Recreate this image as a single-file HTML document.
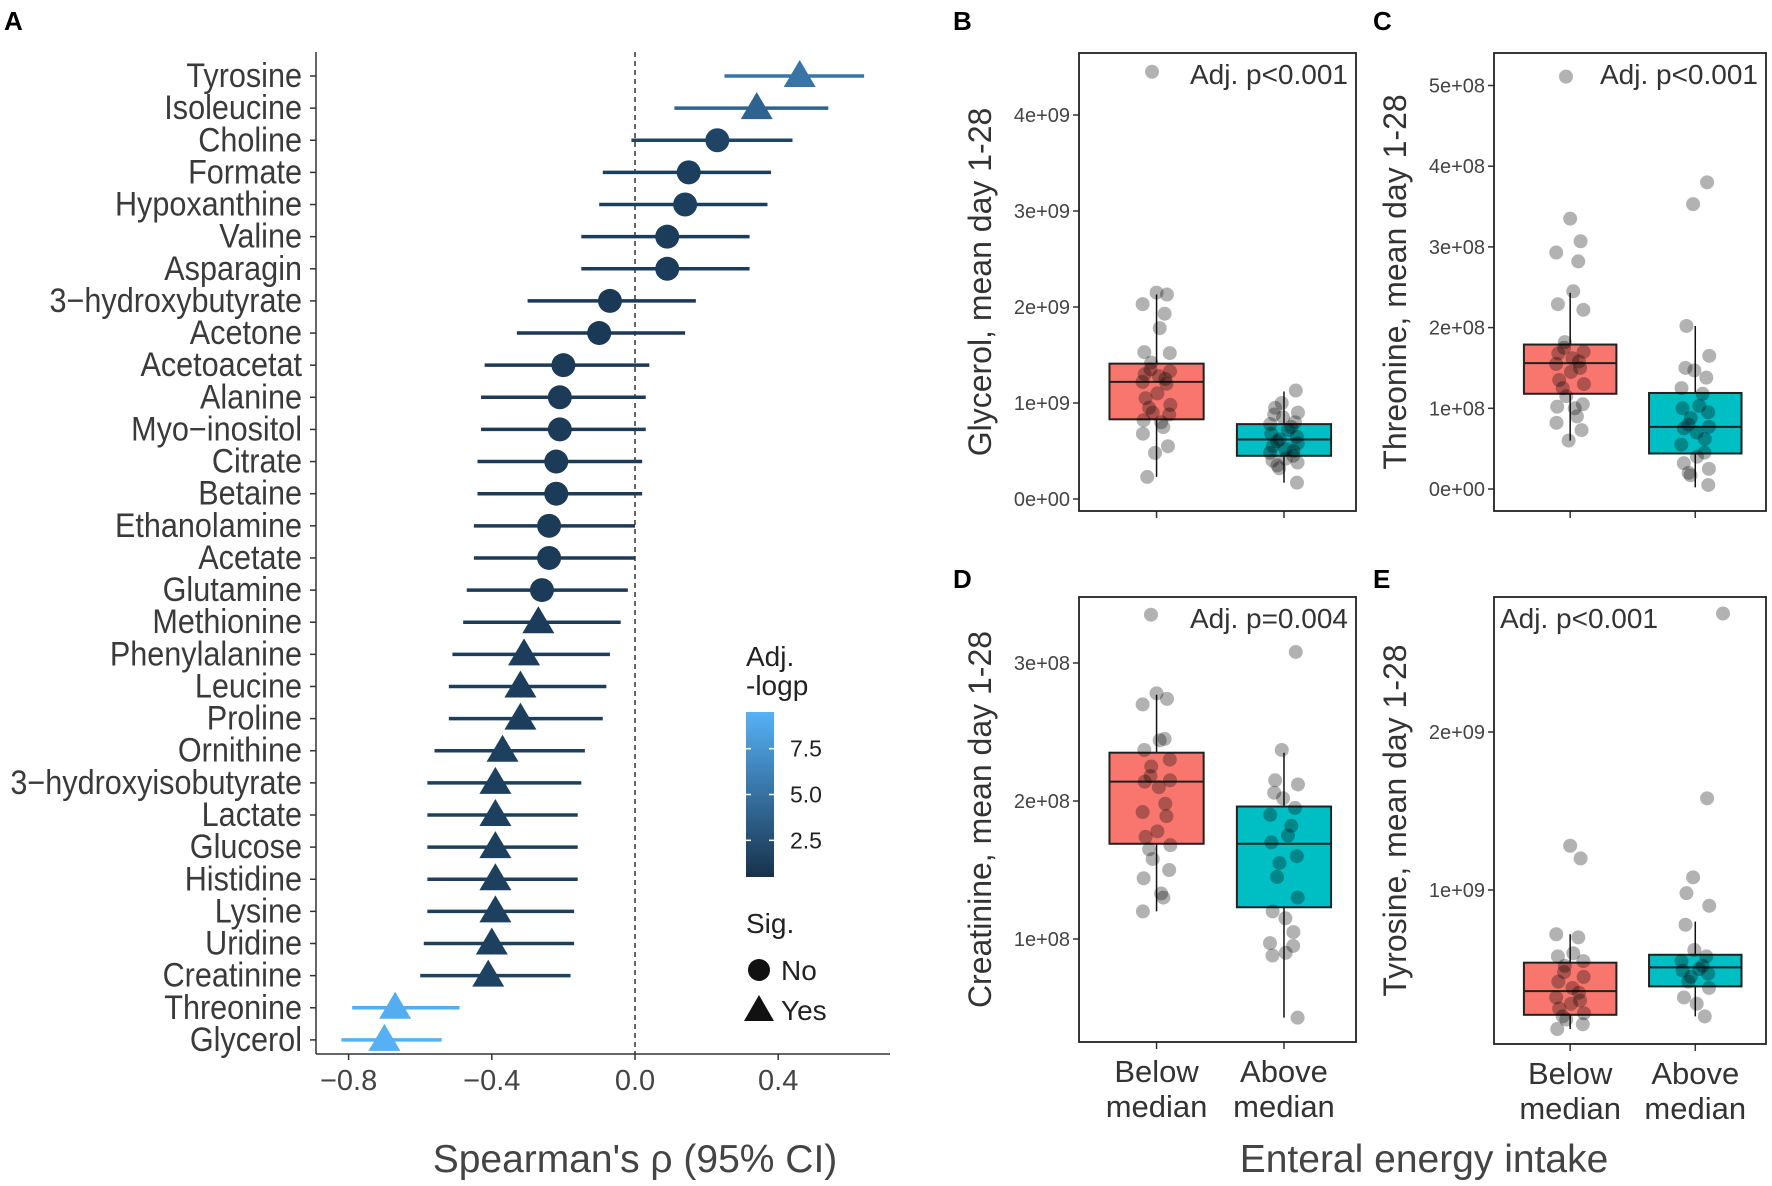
<!DOCTYPE html>
<html><head><meta charset="utf-8"><style>
body{margin:0;background:#fff}
svg{display:block;font-family:"Liberation Sans",Arial,sans-serif}
</style></head><body>
<svg id="fig" width="1772" height="1186" viewBox="0 0 1772 1186"></svg>
<script>
// ---------- Panel A data ----------
const metabolites=["Tyrosine","Isoleucine","Choline","Formate","Hypoxanthine","Valine","Asparagin","3\u2212hydroxybutyrate","Acetone","Acetoacetat","Alanine","Myo\u2212inositol","Citrate","Betaine","Ethanolamine","Acetate","Glutamine","Methionine","Phenylalanine","Leucine","Proline","Ornithine","3\u2212hydroxyisobutyrate","Lactate","Glucose","Histidine","Lysine","Uridine","Creatinine","Threonine","Glycerol"];
const rho=[0.46,0.34,0.23,0.15,0.14,0.09,0.09,-0.07,-0.10,-0.20,-0.21,-0.21,-0.22,-0.22,-0.24,-0.24,-0.26,-0.27,-0.31,-0.32,-0.32,-0.37,-0.39,-0.39,-0.39,-0.39,-0.39,-0.40,-0.41,-0.67,-0.70];
const ciLow=[0.25,0.11,-0.01,-0.09,-0.10,-0.15,-0.15,-0.30,-0.33,-0.42,-0.43,-0.43,-0.44,-0.44,-0.45,-0.45,-0.47,-0.48,-0.51,-0.52,-0.52,-0.56,-0.58,-0.58,-0.58,-0.58,-0.58,-0.59,-0.60,-0.79,-0.82];
const ciHigh=[0.64,0.54,0.44,0.38,0.37,0.32,0.32,0.17,0.14,0.04,0.03,0.03,0.02,0.02,0.00,0.00,-0.02,-0.04,-0.07,-0.08,-0.09,-0.14,-0.15,-0.16,-0.16,-0.16,-0.17,-0.17,-0.18,-0.49,-0.54];
const logp=[5.2,4.0,1.8,1.4,1.4,1.2,1.2,1.0,1.0,1.1,1.1,1.1,1.1,1.1,1.1,1.1,1.1,1.2,1.3,1.3,1.3,1.5,1.5,1.5,1.5,1.5,1.5,1.5,1.6,9.2,9.4];
const sig=[1,1,0,0,0,0,0,0,0,0,0,0,0,0,0,0,0,1,1,1,1,1,1,1,1,1,1,1,1,1,1];
const xTicksA=[-0.8,-0.4,0.0,0.4];
// ---------- Box panels data ----------
const bBelow=[2.15,2.13,2.03,1.93,1.78,1.53,1.52,1.42,1.35,1.33,1.3,1.28,1.25,1.22,1.2,1.1,1.05,0.98,0.95,0.9,0.88,0.82,0.8,0.75,0.68,0.55,0.48,0.23];
const bAbove=[1.13,1.0,0.95,0.9,0.88,0.85,0.8,0.78,0.75,0.72,0.68,0.65,0.62,0.6,0.58,0.55,0.52,0.5,0.48,0.45,0.42,0.4,0.38,0.35,0.32,0.17];
const bStats=[[0.23,0.83,1.22,1.41,2.13],[0.17,0.45,0.62,0.78,1.12]];
const cBelow=[3.35,3.07,2.93,2.82,2.45,2.29,2.22,1.82,1.75,1.7,1.68,1.62,1.58,1.55,1.5,1.45,1.35,1.3,1.25,1.15,1.05,1.02,1.0,0.9,0.82,0.73,0.6];
const cAbove=[3.8,3.53,2.02,1.65,1.5,1.47,1.38,1.25,1.18,1.03,1.0,0.95,0.88,0.8,0.77,0.75,0.7,0.62,0.55,0.45,0.4,0.32,0.25,0.2,0.17,0.05];
const cStats=[[0.6,1.18,1.56,1.79,2.43],[0.02,0.44,0.77,1.19,2.02]];
const dBelow=[2.78,2.74,2.7,2.45,2.44,2.37,2.3,2.25,2.18,2.15,2.14,2.1,1.98,1.92,1.89,1.78,1.74,1.68,1.65,1.58,1.5,1.44,1.33,1.3,1.2];
const dAbove=[3.08,2.37,2.15,2.12,2.06,2.02,1.95,1.9,1.82,1.75,1.7,1.6,1.55,1.45,1.3,1.2,1.15,1.05,0.97,0.95,0.9,0.88,0.43];
const dStats=[[1.2,1.69,2.14,2.35,2.77],[0.43,1.23,1.69,1.96,2.35]];
const eBelow=[1.28,1.2,0.72,0.7,0.6,0.58,0.55,0.52,0.48,0.45,0.42,0.38,0.35,0.32,0.3,0.28,0.25,0.22,0.2,0.18,0.15,0.12];
const eAbove=[1.58,1.08,0.98,0.9,0.78,0.62,0.58,0.55,0.52,0.5,0.49,0.47,0.45,0.42,0.38,0.32,0.28,0.2];
const eStats=[[0.12,0.21,0.36,0.54,0.72],[0.2,0.39,0.51,0.59,0.8]];

const NS="http://www.w3.org/2000/svg";
const svg=document.getElementById('fig');
function mk(tag,attrs,parent,text){const e=document.createElementNS(NS,tag);for(const k in attrs)e.setAttribute(k,attrs[k]);if(text!==undefined)e.textContent=text;(parent||svg).appendChild(e);return e;}
function col(v){const t=Math.min(1,Math.max(0,v/9.5));const a=[19,43,67],b=[86,177,247];return `rgb(${a.map((c,i)=>Math.round(c+(b[i]-c)*t)).join(',')})`;}

// ---------- Panel A ----------
const xA=v=>635+v*358;
const yA=i=>76+i*32.13;
let t;
t=mk('text',{x:4,y:30,'font-size':26,'font-weight':'bold'},svg,'A');

let ax=mk('line',{x1:316,y1:52,x2:316,y2:1054,stroke:'#333','stroke-width':1.5});

ax=mk('line',{x1:316,y1:1054,x2:890,y2:1054,stroke:'#333','stroke-width':1.5});

let zl=mk('line',{x1:xA(0),y1:52,x2:xA(0),y2:1054,stroke:'#333','stroke-width':1.5,'stroke-dasharray':'5,4'});

xTicksA.forEach(v=>{
  mk('line',{x1:xA(v),y1:1054,x2:xA(v),y2:1060,stroke:'#333','stroke-width':1.5});
  const l=mk('text',{x:xA(v),y:1090,'font-size':29,'text-anchor':'middle',fill:'#444'},svg,v.toFixed(1).replace('-','\u2212'));
  
});
metabolites.forEach((m,i)=>{
  const y=yA(i);
  mk('line',{x1:310,y1:y,x2:316,y2:y,stroke:'#333','stroke-width':1.5});
  const l=mk('text',{x:0,y:0,'font-size':34,'text-anchor':'end',fill:'#3a3a3a',transform:`translate(302,${y+11}) scale(0.9,1)`},svg,m);
  
  const c=col(logp[i]);
  const e=mk('line',{x1:xA(ciLow[i]),y1:y,x2:xA(ciHigh[i]),y2:y,stroke:c,'stroke-width':3.5});
  
  let p;
  if(sig[i]){const cx=xA(rho[i]);p=mk('polygon',{points:`${cx},${y-16} ${cx-16},${y+11} ${cx+16},${y+11}`,fill:c});}
  else p=mk('circle',{cx:xA(rho[i]),cy:y,r:12,fill:c});
  
});
t=mk('text',{x:635,y:1172,'font-size':39,'text-anchor':'middle',fill:'#444'},svg,"Spearman's \u03c1 (95% CI)");

// legend
const defs=mk('defs',{});
const g=mk('linearGradient',{id:'cb',x1:0,y1:1,x2:0,y2:0},defs);
mk('stop',{offset:0,'stop-color':col(0.5)},g);mk('stop',{offset:1,'stop-color':col(9.5)},g);
t=mk('text',{x:746,y:666,'font-size':28,fill:'#222'},svg,'Adj.');
mk('text',{x:746,y:695,'font-size':28,fill:'#222'},svg,'-logp');
let cb=mk('rect',{x:746,y:712,width:28,height:165,fill:'url(#cb)'});

const cbTicks=[7.5,5.0,2.5];
cbTicks.forEach(v=>{const y=877-(v-0.5)/9*165;
  mk('line',{x1:746,y1:y,x2:751,y2:y,stroke:'#fff','stroke-width':1.5});mk('line',{x1:769,y1:y,x2:774,y2:y,stroke:'#fff','stroke-width':1.5});
  const l=mk('text',{x:790,y:y+8,'font-size':23,fill:'#222'},svg,v.toFixed(1));});
t=mk('text',{x:746,y:933,'font-size':28,fill:'#222'},svg,'Sig.');
let le=mk('circle',{cx:759,cy:970,r:11,fill:'#111'});
mk('text',{x:781,y:980,'font-size':28,fill:'#222'},svg,'No');
le=mk('polygon',{points:'759,995 744,1021 774,1021',fill:'#111'});
mk('text',{x:781,y:1020,'font-size':28,fill:'#222'},svg,'Yes');

// ---------- Box panels ----------
function boxPanel(o){
  const {label,lx,ly,fx0,fx1,fy0,fy1,y0,ppu,ticks,tickLab,below,above,stats,title,ann,annLeft,annDot,xlab,name}=o;
  const Y=v=>y0-v*ppu;
  const cx=[fx0+(fx1-fx0)*0.28,fx0+(fx1-fx0)*0.74];
  let l=mk('text',{x:lx,y:ly,'font-size':26,'font-weight':'bold'},svg,label);
  
  ticks.forEach((v,i)=>{mk('line',{x1:fx0-6,y1:Y(v),x2:fx0,y2:Y(v),stroke:'#333','stroke-width':1.5});
    const tl=mk('text',{x:fx0-9,y:Y(v)+7,'font-size':20,'text-anchor':'end',fill:'#444'},svg,tickLab[i]);
    });
  const fills=['#F8766D','#00BFC4'];
  [below,above].forEach((vals,gi)=>{
    const s=stats[gi],x=cx[gi],w=(fx1-fx0)*0.34;
    mk('line',{x1:x,y1:Y(s[0]),x2:x,y2:Y(s[4]),stroke:'#111','stroke-width':1.5});
    const b=mk('rect',{x:x-w/2,y:Y(s[3]),width:w,height:Y(s[1])-Y(s[3]),fill:fills[gi],stroke:'#222','stroke-width':2});
    
    mk('line',{x1:x-w/2,y1:Y(s[2]),x2:x+w/2,y2:Y(s[2]),stroke:'#222','stroke-width':2});
    vals.forEach((v,i)=>{const jx=Math.sin(i*2.3+gi)*14;
      const p=mk('circle',{cx:x+jx,cy:Y(v),r:7,fill:'rgba(0,0,0,0.3)'});
      });
    mk('line',{x1:x,y1:fy1,x2:x,y2:fy1+7,stroke:'#333','stroke-width':1.5});
  });
  const f=mk('rect',{x:fx0,y:fy0,width:fx1-fx0,height:fy1-fy0,fill:'none',stroke:'#222','stroke-width':1.8});
  
  const ad=mk('circle',{cx:annDot[0],cy:Y(annDot[1]),r:7,fill:'rgba(0,0,0,0.3)'});
  const at=mk('text',{x:annLeft?fx0+6:fx1-8,y:fy0+31,'font-size':28,'text-anchor':annLeft?'start':'end',fill:'#333'},svg,ann);
  
  const ty=(fy0+fy1)/2;
  const tt=mk('text',{x:0,y:0,'font-size':32,'text-anchor':'middle',fill:'#333',transform:`translate(${fx0-88},${ty}) rotate(-90)`},svg,title);
  
  if(xlab){[['Below','median'],['Above','median']].forEach((w,gi)=>{
    const a=mk('text',{x:cx[gi],y:fy1+40,'font-size':31,'text-anchor':'middle',fill:'#333'},svg,w[0]);
    
    mk('text',{x:cx[gi],y:fy1+75,'font-size':31,'text-anchor':'middle',fill:'#333'},svg,w[1]);});}
}
boxPanel({name:'b',label:'B',lx:953,ly:30,fx0:1079,fx1:1356,fy0:53,fy1:511,y0:499,ppu:96,ticks:[0,1,2,3,4],tickLab:['0e+00','1e+09','2e+09','3e+09','4e+09'],below:bBelow,above:bAbove,stats:bStats,title:'Glycerol, mean day 1-28',ann:'Adj. p<0.001',annLeft:false,annDot:[1152,4.45],xlab:false});
boxPanel({name:'c',label:'C',lx:1373,ly:30,fx0:1494,fx1:1766,fy0:53,fy1:511,y0:489,ppu:80.7,ticks:[0,1,2,3,4,5],tickLab:['0e+00','1e+08','2e+08','3e+08','4e+08','5e+08'],below:cBelow,above:cAbove,stats:cStats,title:'Threonine, mean day 1-28',ann:'Adj. p<0.001',annLeft:false,annDot:[1566,5.11],xlab:false});
boxPanel({name:'d',label:'D',lx:953,ly:588,fx0:1079,fx1:1356,fy0:597,fy1:1042,y0:1077,ppu:138,ticks:[1,2,3],tickLab:['1e+08','2e+08','3e+08'],below:dBelow,above:dAbove,stats:dStats,title:'Creatinine, mean day 1-28',ann:'Adj. p=0.004',annLeft:false,annDot:[1151,3.35],xlab:true});
boxPanel({name:'e',label:'E',lx:1373,ly:588,fx0:1494,fx1:1766,fy0:597,fy1:1044,y0:1048,ppu:158,ticks:[1,2],tickLab:['1e+09','2e+09'],below:eBelow,above:eAbove,stats:eStats,title:'Tyrosine, mean day 1-28',ann:'Adj. p<0.001',annLeft:true,annDot:[1723,2.75],xlab:true});
t=mk('text',{x:1424,y:1172,'font-size':39,'text-anchor':'middle',fill:'#444'},svg,'Enteral energy intake');

</script>
</body></html>
